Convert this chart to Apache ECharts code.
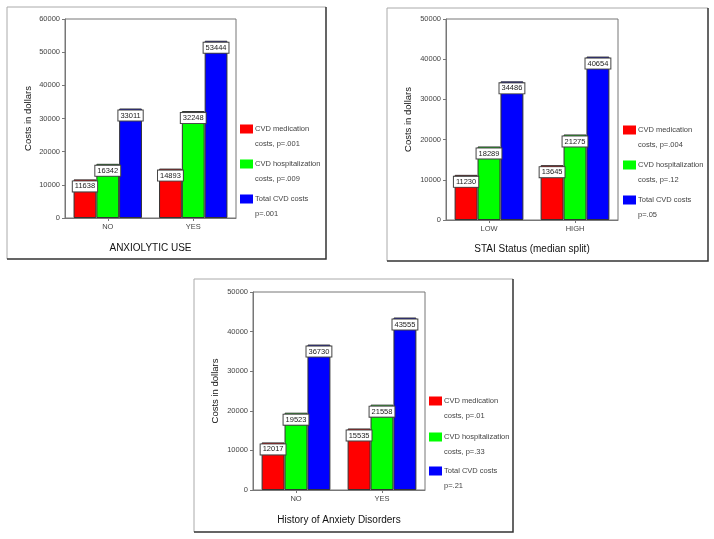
<!DOCTYPE html>
<html>
<head>
<meta charset="utf-8">
<script src="https://cdn.jsdelivr.net/npm/echarts@6/dist/echarts.min.js"></script>
<style>html,body{margin:0;padding:0;background:#fff}#c{width:714px;height:539px}</style>
</head>
<body>
<div id="c"></div>
<script>
// ---- data ----
const categories1 = ['NO', 'YES'];
const medication1 = [11638, 14893];
const hospital1 = [16342, 32248];
const total1 = [33011, 53444];
const names1 = ['CVD medication\ncosts, p=.001', 'CVD hospitalization\ncosts, p=.009', 'Total CVD costs\np=.001'];
const xTitle1 = 'ANXIOLYTIC USE';

const categories2 = ['LOW', 'HIGH'];
const medication2 = [11230, 13645];
const hospital2 = [18289, 21275];
const total2 = [34486, 40654];
const names2 = ['CVD medication\ncosts, p=.004', 'CVD hospitalization\ncosts, p=.12', 'Total CVD costs\np=.05'];
const xTitle2 = 'STAI Status (median split)';

const categories3 = ['NO', 'YES'];
const medication3 = [12017, 15535];
const hospital3 = [19523, 21558];
const total3 = [36730, 43555];
const names3 = ['CVD medication\ncosts, p=.01', 'CVD hospitalization\ncosts, p=.33', 'Total CVD costs\np=.21'];
const xTitle3 = 'History of Anxiety Disorders';

const yTitle = 'Costs in dollars';
const yMax = [60000, 50000, 50000];

// ---- layout ----
const FONT = '"Liberation Sans", Arial, sans-serif';
const colors = ['#ff0000', '#00ff00', '#0000ff'];
const grids = [
  {left: 65, top: 19, width: 171, height: 199},
  {left: 446, top: 19, width: 172, height: 201},
  {left: 253, top: 292, width: 172, height: 198}
];
const yNameGaps = [32, 33, 33];
const xNameGaps = [25, 24, 25];
const frames = [
  [7, 7, 326, 259],
  [387, 8, 708, 261],
  [194, 279, 513, 532]
];
const legendPos = [
  {left: 240, tops: [129, 164, 199]},
  {left: 623, tops: [130, 165, 200]},
  {left: 429, tops: [401, 437, 471]}
];
const panels = [
  {cats: categories1, vals: [medication1, hospital1, total1], names: names1, xt: xTitle1},
  {cats: categories2, vals: [medication2, hospital2, total2], names: names2, xt: xTitle2},
  {cats: categories3, vals: [medication3, hospital3, total3], names: names3, xt: xTitle3}
];
// legend swatch: a 13x9 square sitting at the top of a 13x24 box (aligns with first text line)
const SWATCH = 'path://M0,0L13,0L13,9L0,9Z M0,23.99L0.01,23.99L0.01,24L0,24Z';

const option = {
  backgroundColor: '#ffffff',
  animation: false,
  grid: grids.map(g => Object.assign({show: true, borderColor: '#777', borderWidth: 1, backgroundColor: 'transparent'}, g)),
  xAxis: panels.map((p, i) => ({
    type: 'category', gridIndex: i, data: p.cats,
    name: p.xt, nameLocation: 'middle', nameGap: xNameGaps[i],
    nameTextStyle: {fontFamily: FONT, fontSize: 10, color: '#111'},
    axisLine: {lineStyle: {color: '#777'}},
    axisTick: {show: true, alignWithLabel: true, length: 3, lineStyle: {color: '#777'}},
    axisLabel: {fontFamily: FONT, fontSize: 7.5, color: '#444', margin: 5}
  })),
  yAxis: panels.map((p, i) => ({
    type: 'value', gridIndex: i, min: 0, max: yMax[i], interval: 10000,
    name: yTitle, nameLocation: 'middle', nameGap: yNameGaps[i],
    nameTextStyle: {fontFamily: FONT, fontSize: 9.5, color: '#111'},
    axisLine: {show: true, lineStyle: {color: '#777'}},
    axisTick: {show: true, length: 3, lineStyle: {color: '#777'}},
    splitLine: {show: false},
    axisLabel: {fontFamily: FONT, fontSize: 7.5, color: '#444', margin: 5, formatter: v => String(v)}
  })),
  legend: [],
  series: [],
  graphic: []
};

panels.forEach((p, i) => {
  p.vals.forEach((v, k) => {
    option.series.push({
      type: 'bar', name: p.names[k], xAxisIndex: i, yAxisIndex: i, data: v,
      barGap: 0, barCategoryGap: '20%',
      itemStyle: {color: colors[k], borderColor: '#333', borderWidth: 1},
      label: {
        show: true, position: 'insideTop', distance: 2,
        fontFamily: FONT, fontSize: 7.5, color: '#222',
        backgroundColor: '#fff', borderColor: '#444', borderWidth: 1, padding: [1, 2, 1, 2]
      }
    });
    option.legend.push({
      data: [{name: p.names[k], icon: SWATCH}], left: legendPos[i].left, top: legendPos[i].tops[k] - 7.5,
      orient: 'vertical', padding: 0, itemWidth: 13, itemHeight: 24,
      selectedMode: false,
      itemStyle: {borderWidth: 0},
      textStyle: {fontFamily: FONT, fontSize: 7.5, color: '#444', lineHeight: 15, padding: [0, 0, 0, -3]}
    });
  });
  const f = frames[i];
  option.graphic.push({type: 'polyline', shape: {points: [[f[0], f[3]], [f[0], f[1]], [f[2], f[1]]]}, style: {stroke: '#aaa', lineWidth: 1, fill: null}, silent: true});
  option.graphic.push({type: 'polyline', shape: {points: [[f[2], f[1]], [f[2], f[3]], [f[0], f[3]]]}, style: {stroke: '#333', lineWidth: 1.5, fill: null}, silent: true});
});

const chart = echarts.init(document.getElementById('c'), null, {renderer: 'canvas'});
chart.setOption(option);
</script>
</body>
</html>
